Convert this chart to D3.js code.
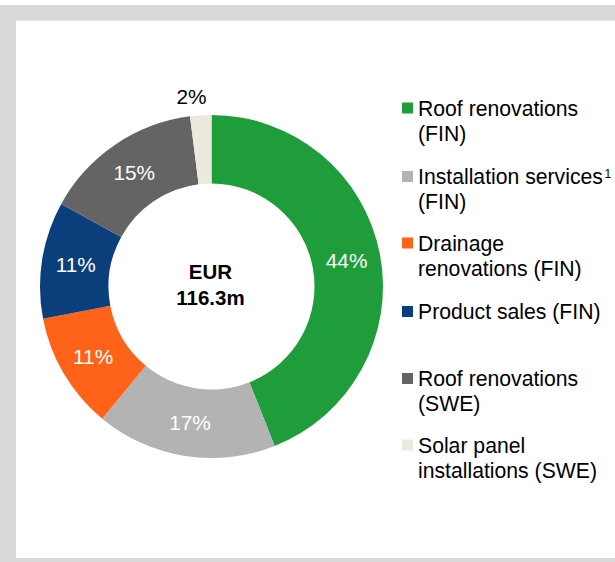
<!DOCTYPE html>
<html>
<head>
<meta charset="utf-8">
<script src="https://cdn.jsdelivr.net/npm/d3@7"></script>
<style>
  body { margin: 0; background: #fff; }
  svg text { font-family: "Liberation Sans", Arial, sans-serif; }
</style>
</head>
<body>
<svg id="chart" width="615" height="562"></svg>
<script>
// segments, clockwise from 12 o'clock
var segments = ['Roof renovations (FIN)', 'Installation services (FIN)', 'Drainage renovations (FIN)', 'Product sales (FIN)', 'Roof renovations (SWE)', 'Solar panel installations (SWE)'];
var shares = [44, 17, 11, 11, 15, 2];
var colors = ['#209d3b', '#b3b3b3', '#ff6319', '#0a3f7b', '#646464', '#ece9df'];
var legendLines = [['Roof renovations', '(FIN)'], ['Installation services', '(FIN)'], ['Drainage', 'renovations (FIN)'], ['Product sales (FIN)'], ['Roof renovations', '(SWE)'], ['Solar panel', 'installations (SWE)']];
var legendNotes = ['', '1', '', '', '', ''];
var centerLines = ['EUR', '116.3m'];

var svg = d3.select('#chart');

// grey frame round the white panel
svg.append('rect').attr('x', 0).attr('y', 5).attr('width', 615).attr('height', 557).attr('fill', '#d9d9d9');
svg.append('rect').attr('x', 16).attr('y', 20.7).attr('width', 599).attr('height', 537.3).attr('fill', '#fff');

var cx = 211.5, cy = 286.5;
var outer = 171.5, inner = 103;

var pie = d3.pie().sort(null).value(function(d) { return d; });
var arcs = pie(shares);
var arc = d3.arc().innerRadius(inner).outerRadius(outer);
var labelArc = d3.arc().innerRadius(137.5).outerRadius(137.5);

var g = svg.append('g').attr('transform', 'translate(' + cx + ',' + cy + ')');

g.selectAll('path.slice').data(arcs).enter().append('path')
	.attr('class', 'slice')
	.attr('d', arc)
	.attr('fill', function(d, i) { return colors[i]; });

// labels; small slices get their label outside the ring
g.selectAll('text.pct').data(arcs).enter().append('text')
	.attr('class', 'pct')
	.attr('transform', function(d) {
		var small = d.value < 5;
		var p = small ? d3.arc().innerRadius(outer + 19).outerRadius(outer + 19).centroid(d) : labelArc.centroid(d);
		if (small) p[0] -= 8;
		return 'translate(' + p[0] + ',' + p[1] + ')';
	})
	.attr('text-anchor', 'middle')
	.attr('dy', '0.36em')
	.attr('font-size', 20.8)
	.attr('fill', function(d) { return d.value < 5 ? '#000' : '#fff'; })
	.text(function(d) { return d.value + '%'; });

// centre
g.selectAll('text.center').data(centerLines).enter().append('text')
	.attr('class', 'center')
	.attr('x', -1)
	.attr('y', function(d, i) { return -7.5 + i * 25.5; })
	.attr('text-anchor', 'middle')
	.attr('font-size', 20.5)
	.attr('font-weight', 'bold')
	.attr('fill', '#000')
	.text(function(d) { return d; });

// legend
var legendY = [108, 176.5, 243, 311.5, 378.5, 445];
var lg = svg.append('g');
var item = lg.selectAll('g.item').data(segments).enter().append('g')
	.attr('class', 'item')
	.attr('transform', function(d, i) { return 'translate(402,' + legendY[i] + ')'; });

item.append('rect')
	.attr('x', 0).attr('y', -5.5)
	.attr('width', 11).attr('height', 11)
	.attr('fill', function(d, i) { return colors[i]; });

item.each(function(d, i) {
	var t = d3.select(this).append('text')
		.attr('x', 16)
		.attr('font-size', 21.2)
		.attr('fill', '#000');
	legendLines[i].forEach(function(line, j) {
		t.append('tspan').attr('x', 16).attr('y', j * 25.3).attr('dy', '0.36em').text(line);
		if (j === 0 && legendNotes[i]) {
			t.append('tspan').attr('dx', 1.5).attr('dy', '-0.55em').attr('font-size', 12).text(legendNotes[i]);
		}
	});
});
</script>
</body>
</html>
